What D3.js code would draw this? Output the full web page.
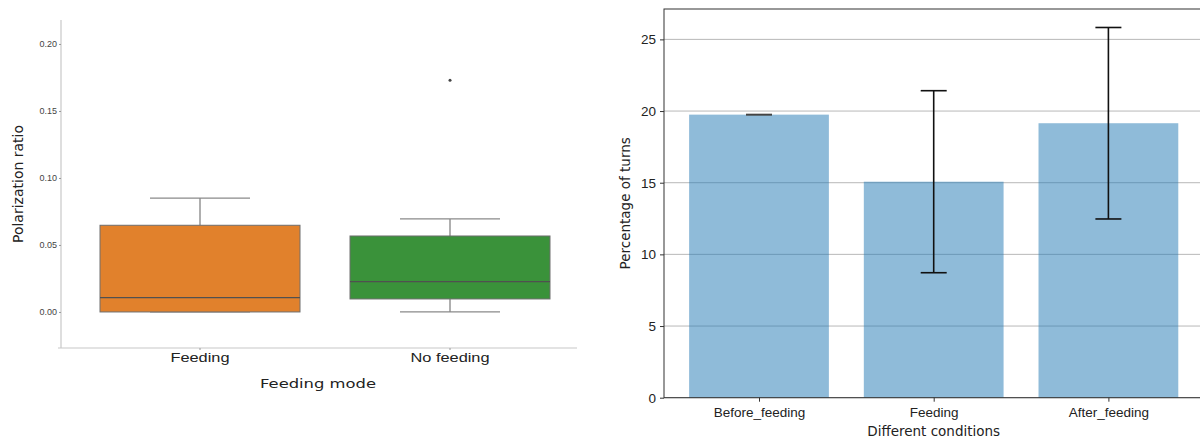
<!DOCTYPE html>
<html>
<head>
<meta charset="utf-8">
<script src="https://cdn.jsdelivr.net/npm/d3@7"></script>
<style>
  body { margin: 0; background: #fff; }
  svg { display: block; font-family: "DejaVu Sans", sans-serif; }
</style>
</head>
<body>
<svg id="chart" width="1200" height="439"></svg>
<script>
// Left panel: box plot of polarization ratio
const modes = ['Feeding', 'No feeding'];
const boxMin = [0.0, 0.0];
const boxQ1 = [0.0, 0.0097];
const boxMedian = [0.0107, 0.0226];
const boxQ3 = [0.0647, 0.0567];
const boxMax = [0.085, 0.0694];
const boxOutliers = [[], [0.173]];
const boxColors = ['#e1812c', '#3a923a'];
const polarTicks = [0.00, 0.05, 0.10, 0.15, 0.20];

// Right panel: bar chart with error bars
const conditions = ['Before_feeding', 'Feeding', 'After_feeding'];
const turnPct = [19.75, 15.07, 19.15];
const turnErr = [0.0, 6.35, 6.68];
const turnTicks = [0, 5, 10, 15, 20, 25];

const svg = d3.select('#chart');

// ---------- left box plot ----------
let left = svg.append('g');

let xBox = d3.scaleBand()
    .domain(modes)
    .range([75, 575]);

let yBox = d3.scaleLinear()
    .domain([-0.0269, 0.2179])
    .range([348, 20]);

// spines
left.append('line')
    .attr('x1', 61).attr('x2', 61)
    .attr('y1', yBox.range()[1]).attr('y2', yBox.range()[0])
    .attr('stroke', '#c8c8c8').attr('stroke-width', 1.2);
left.append('line')
    .attr('x1', 58).attr('x2', 577)
    .attr('y1', 348).attr('y2', 348)
    .attr('stroke', '#c8c8c8').attr('stroke-width', 1.2);

// y ticks
let yAxisL = left.append('g')
    .attr('transform', 'translate(61,0)')
    .call(d3.axisLeft(yBox).tickValues(polarTicks).tickFormat(d3.format('.2f')).tickSize(2).tickPadding(2));
yAxisL.select('.domain').remove();
yAxisL.selectAll('line').attr('stroke', '#999');
yAxisL.selectAll('text')
    .attr('fill', '#444')
    .style('font-size', '9px');

// x ticks (the source image text is wide, so stretch it a bit)
let xAxisL = left.append('g')
    .attr('transform', 'translate(0,348)')
    .call(d3.axisBottom(xBox).tickSize(2).tickPadding(3));
xAxisL.select('.domain').remove();
xAxisL.selectAll('line').attr('stroke', '#999');
xAxisL.selectAll('text')
    .attr('fill', '#222')
    .attr('transform', 'scale(1.26,1)')
    .style('font-size', '13px');

// boxes
let boxW = xBox.bandwidth() * 0.8;
modes.forEach((m, i) => {
    let cx = xBox(m) + xBox.bandwidth() / 2;
    let g = left.append('g');
    // whiskers
    g.append('line')
        .attr('x1', cx).attr('x2', cx)
        .attr('y1', yBox(boxQ3[i])).attr('y2', yBox(boxMax[i]))
        .attr('stroke', '#7a7a7a').attr('stroke-width', 1.2);
    g.append('line')
        .attr('x1', cx).attr('x2', cx)
        .attr('y1', yBox(boxQ1[i])).attr('y2', yBox(boxMin[i]))
        .attr('stroke', '#7a7a7a').attr('stroke-width', 1.2);
    [boxMax[i], boxMin[i]].forEach(v => {
        g.append('line')
            .attr('x1', cx - boxW / 4).attr('x2', cx + boxW / 4)
            .attr('y1', yBox(v)).attr('y2', yBox(v))
            .attr('stroke', '#8a8a8a').attr('stroke-width', 1.2);
    });
    // box
    g.append('rect')
        .attr('x', cx - boxW / 2)
        .attr('y', yBox(boxQ3[i]))
        .attr('width', boxW)
        .attr('height', yBox(boxQ1[i]) - yBox(boxQ3[i]))
        .attr('fill', boxColors[i])
        .attr('stroke', '#6e6e6e').attr('stroke-width', 1);
    // median
    g.append('line')
        .attr('x1', cx - boxW / 2).attr('x2', cx + boxW / 2)
        .attr('y1', yBox(boxMedian[i])).attr('y2', yBox(boxMedian[i]))
        .attr('stroke', '#505050').attr('stroke-width', 1.2);
    // outliers
    boxOutliers[i].forEach(v => {
        g.append('circle')
            .attr('cx', cx).attr('cy', yBox(v))
            .attr('r', 1.5)
            .attr('fill', '#444');
    });
});

// labels
left.append('text')
    .attr('transform', 'translate(23,' + (yBox.range()[0] + yBox.range()[1]) / 2 + ') rotate(-90)')
    .attr('text-anchor', 'middle')
    .attr('fill', '#222')
    .style('font-size', '14px')
    .text('Polarization ratio');

left.append('text')
    .attr('transform', 'translate(318,388) scale(1.26,1)')
    .attr('text-anchor', 'middle')
    .attr('fill', '#222')
    .style('font-size', '13px')
    .text('Feeding mode');

// ---------- right bar chart ----------
let right = svg.append('g');

let xCentre = d3.scalePoint()
    .domain(conditions)
    .range([759, 1108.4]);
let step = xCentre.step();

let yBar = d3.scaleLinear()
    .domain([0, 27.12])
    .range([397.7, 9]);

// grid
right.append('g')
    .selectAll('line')
    .data(turnTicks)
    .enter().append('line')
    .attr('x1', 664).attr('x2', 1203)
    .attr('y1', d => yBar(d)).attr('y2', d => yBar(d))
    .attr('stroke', '#b0b0b0').attr('stroke-width', 0.9);

// bars
right.selectAll('rect.bar')
    .data(conditions)
    .enter().append('rect')
    .attr('class', 'bar')
    .attr('x', d => xCentre(d) - step * 0.4)
    .attr('y', (d, i) => yBar(turnPct[i]))
    .attr('width', step * 0.8)
    .attr('height', (d, i) => yBar(0) - yBar(turnPct[i]))
    .attr('fill', '#1f77b4')
    .attr('fill-opacity', 0.5);

// error bars
conditions.forEach((c, i) => {
    let cx = xCentre(c);
    let lo = yBar(turnPct[i] - turnErr[i]);
    let hi = yBar(turnPct[i] + turnErr[i]);
    right.append('line')
        .attr('x1', cx).attr('x2', cx)
        .attr('y1', lo).attr('y2', hi)
        .attr('stroke', '#111').attr('stroke-width', 1.6);
    [lo, hi].forEach(y => {
        right.append('line')
            .attr('x1', cx - 13).attr('x2', cx + 13)
            .attr('y1', y).attr('y2', y)
            .attr('stroke', turnErr[i] === 0 ? '#444' : '#111')
            .attr('stroke-width', 1.6);
    });
});

// frame
right.append('rect')
    .attr('x', 664).attr('y', 9)
    .attr('width', 539).attr('height', 388.7)
    .attr('fill', 'none')
    .attr('stroke', '#333').attr('stroke-width', 1);

// axes
let yAxisR = right.append('g')
    .attr('transform', 'translate(664,0)')
    .call(d3.axisLeft(yBar).tickValues(turnTicks).tickSize(4).tickPadding(4));
yAxisR.select('.domain').remove();
yAxisR.selectAll('line').attr('stroke', '#333');
yAxisR.selectAll('text')
    .attr('fill', '#222')
    .style('font-size', '13.5px');

let xAxisR = right.append('g')
    .attr('transform', 'translate(0,397.7)')
    .call(d3.axisBottom(xCentre).tickSize(4).tickPadding(6));
xAxisR.select('.domain').remove();
xAxisR.selectAll('line').attr('stroke', '#333');
xAxisR.selectAll('text')
    .attr('fill', '#222')
    .style('font-size', '13.5px');

right.append('text')
    .attr('transform', 'translate(630,' + (yBar.range()[0] + yBar.range()[1]) / 2 + ') rotate(-90)')
    .attr('text-anchor', 'middle')
    .attr('fill', '#222')
    .style('font-size', '13.5px')
    .text('Percentage of turns');

right.append('text')
    .attr('x', 933.7).attr('y', 436)
    .attr('text-anchor', 'middle')
    .attr('fill', '#222')
    .style('font-size', '13.5px')
    .text('Different conditions');
</script>
</body>
</html>
